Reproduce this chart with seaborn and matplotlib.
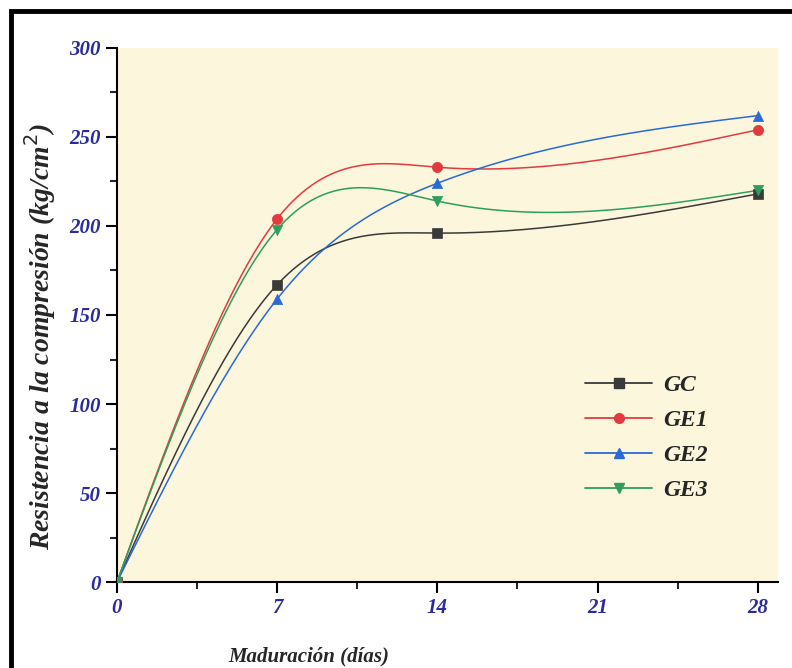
import numpy as np
import pandas as pd
import seaborn as sns
import matplotlib.pyplot as plt
from matplotlib.lines import Line2D
from matplotlib.patches import Rectangle
from matplotlib.ticker import MultipleLocator

dias = [0, 7, 14, 28]
gc = [0, 167, 196, 218]
ge1 = [0, 204, 233, 254]
ge2 = [0, 159, 224, 262]
ge3 = [0, 198, 214, 220]
grupos = ["GC", "GE1", "GE2", "GE3"]
colores = ["#3a3a3a", "#e23b3f", "#2a6ad6", "#2e9e5e"]
marcadores = ["s", "o", "^", "v"]

FONT = ["Liberation Serif", "DejaVu Serif"]
TICK_COLOR = "#2b2b9c"


def natural_spline(x, y, n=300):
    # natural cubic spline, only for drawing the connecting curve
    x = np.asarray(x, float)
    y = np.asarray(y, float)
    h = np.diff(x)
    k = len(x)
    A = np.zeros((k, k))
    b = np.zeros(k)
    A[0, 0] = A[-1, -1] = 1
    for i in range(1, k - 1):
        A[i, i - 1] = h[i - 1]
        A[i, i] = 2 * (h[i - 1] + h[i])
        A[i, i + 1] = h[i]
        b[i] = 6 * ((y[i + 1] - y[i]) / h[i] - (y[i] - y[i - 1]) / h[i - 1])
    M = np.linalg.solve(A, b)
    xs = np.linspace(x[0], x[-1], n)
    idx = np.clip(np.searchsorted(x, xs) - 1, 0, k - 2)
    x0, x1 = x[idx], x[idx + 1]
    hh = x1 - x0
    ys = (M[idx] * (x1 - xs) ** 3 / (6 * hh) + M[idx + 1] * (xs - x0) ** 3 / (6 * hh)
          + (y[idx] / hh - M[idx] * hh / 6) * (x1 - xs)
          + (y[idx + 1] / hh - M[idx + 1] * hh / 6) * (xs - x0))
    return xs, ys


sns.set_theme(style="ticks")
plt.rcParams['font.family'] = FONT

fig = plt.figure(figsize=(7.92, 6.68), dpi=100)
ax = fig.add_axes([0.1477, 0.1287, 0.835, 0.7995])
ax.set_facecolor("#fbf6dc")

puntos = pd.DataFrame({"Dias": dias * 4,
                       "Valor": gc + ge1 + ge2 + ge3,
                       "Grupo": np.repeat(grupos, len(dias))})

handles = []
for g, c, m in zip(grupos, colores, marcadores):
    sub = puntos[puntos.Grupo == g]
    xs, ys = natural_spline(sub.Dias, sub.Valor)
    sns.lineplot(x=xs, y=ys, color=c, lw=1.1, ax=ax, legend=False)
    sns.scatterplot(x=sub.Dias, y=sub.Valor, color=c, marker=m, s=55,
                    edgecolor=c, linewidth=0.5, ax=ax, legend=False, zorder=3)
    handles.append(Line2D([], [], color=c, lw=1.3, marker=m, markersize=7, label=g))

ax.set_xlim(0, 28.9)
ax.set_ylim(0, 300)
ax.set_xticks([0, 7, 14, 21, 28])
ax.set_yticks(range(0, 301, 50))
ax.xaxis.set_minor_locator(MultipleLocator(3.5))
ax.yaxis.set_minor_locator(MultipleLocator(25))
ax.tick_params(axis="both", which="major", direction="out", length=8, width=1.5,
               colors="black", labelcolor=TICK_COLOR, labelsize=15)
ax.tick_params(axis="both", which="minor", direction="out", length=5, width=1.5)
for lab in ax.get_xticklabels() + ax.get_yticklabels():
    lab.set_fontstyle("italic")
    lab.set_fontweight("bold")
    lab.set_family(FONT)

for s in ["top", "right"]:
    ax.spines[s].set_visible(False)
for s in ["left", "bottom"]:
    ax.spines[s].set_linewidth(1.5)
    ax.spines[s].set_color("black")

ax.set_xlabel("Maduración (días)", fontsize=15, fontstyle="italic", fontweight="bold")
ax.set_ylabel("Resistencia a la compresión (kg/cm$^2$)", fontsize=20,
              fontstyle="italic", fontweight="bold")
ax.xaxis.set_label_coords(0.29, -0.12)
ax.yaxis.set_label_coords(-0.089, 0.46)

leg = ax.legend(handles=handles, loc="upper left", bbox_to_anchor=(0.69, 0.41),
                frameon=False, borderpad=0, handlelength=2.85, handletextpad=0.45,
                labelspacing=0.57,
                prop={"family": FONT, "style": "italic", "weight": "bold", "size": 17})

fig.patches.append(Rectangle((11 / 792, -0.05), 1.2, 1 - 11 / 668 + 0.05,
                             transform=fig.transFigure, fill=False,
                             edgecolor="black", lw=3.5))

fig.savefig("out.png", dpi=100)
